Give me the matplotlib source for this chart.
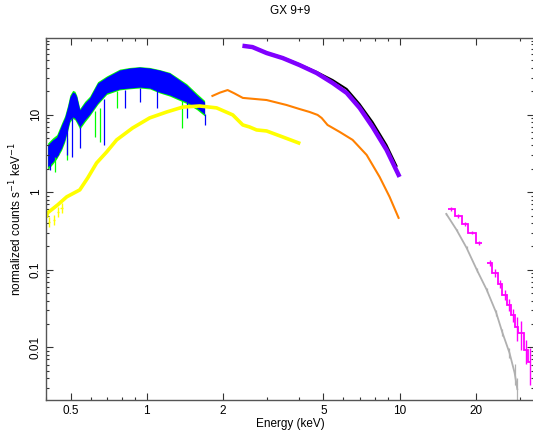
import numpy as np
import matplotlib.pyplot as plt
from matplotlib.ticker import FixedLocator, FixedFormatter, NullFormatter, LogLocator

plt.rcParams['font.family'] = ['Liberation Sans', 'DejaVu Sans']

# low-energy grating-like spectra (blue, green): envelope
band_E = [0.406, 0.425, 0.441, 0.461, 0.474, 0.487, 0.497, 0.510, 0.520, 0.529, 0.544, 0.569, 0.595,
          0.640, 0.695, 0.782, 0.857, 0.938, 1.028, 1.125, 1.233, 1.314, 1.439, 1.577, 1.695]
blue_hi = [4.06, 4.71, 5.15, 7.36, 9.06, 12.5, 16.8, 19.5, 19.0, 17.0, 11.5, 14.1, 16.4,
           25.5, 30.5, 37.5, 39.8, 41.0, 39.8, 37.5, 34.3, 29.6, 24.0, 17.9, 14.5]
blue_lo = [2.12, 2.45, 2.84, 3.72, 4.71, 6.5, 8.52, 9.31, 9.0, 8.2, 6.93, 8.52, 10.1,
           14.1, 19.0, 21.4, 22.0, 22.6, 22.0, 19.5, 17.9, 16.4, 14.5, 12.2, 10.1]
green_hi = [4.3, 5.0, 5.5, 7.8, 9.6, 13.2, 17.8, 20.5, 20.0, 17.8, 12.0, 14.8, 17.2,
            26.5, 31.5, 38.5, 40.5, 41.5, 40.5, 38.0, 35.0, 30.5, 25.0, 18.8, 15.2]
green_lo = [1.95, 2.3, 2.7, 3.5, 4.4, 6.1, 8.0, 8.9, 8.6, 7.8, 6.5, 8.0, 9.6,
            13.5, 18.2, 20.8, 21.5, 22.0, 21.4, 19.0, 17.3, 15.8, 13.9, 11.6, 9.6]

# absorption dips: energy, top, bottom
blue_line_E = [0.414, 0.445, 0.483, 0.505, 0.544, 0.676, 0.819, 0.938, 1.095, 1.45, 1.695]
blue_line_top = [3.0, 4.5, 7.0, 9.0, 7.0, 16.0, 21.0, 22.0, 21.0, 14.5, 10.1]
blue_line_bot = [1.94, 3.02, 3.02, 2.84, 3.72, 4.06, 12.2, 14.5, 12.2, 9.06, 7.35]
green_line_E = [0.433, 0.483, 0.623, 0.652, 0.761, 1.375]
green_line_top = [2.8, 5.0, 11.0, 12.0, 20.0, 15.0]
green_line_bot = [1.82, 2.6, 5.15, 4.44, 12.2, 6.7]

# yellow spectrum
yel_E = [0.403, 0.406, 0.445, 0.483, 0.544, 0.585, 0.634, 0.695, 0.761, 0.880, 1.028,
         1.20, 1.39, 1.62, 1.89, 2.19, 2.40, 2.55, 2.72, 2.98, 3.45, 3.99]
yel_F = [0.495, 0.542, 0.687, 0.871, 1.07, 1.53, 2.38, 3.30, 4.72, 6.72, 9.06,
         10.8, 12.5, 12.9, 12.2, 9.9, 7.35, 6.93, 6.34, 6.15, 5.15, 4.31]
yel_pts_E = [0.410, 0.429, 0.445, 0.461]
yel_pts_F = [0.415, 0.44, 0.56, 0.63]

# orange spectrum
ora_E = [1.82, 1.95, 2.09, 2.22, 2.40, 2.98, 3.57, 4.02, 4.41, 4.74, 4.92, 5.19, 5.80, 6.52,
         7.41, 8.34, 9.13, 9.91]
ora_F = [17.4, 19.2, 20.7, 18.8, 16.4, 15.4, 13.3, 11.8, 10.8, 9.9, 9.04, 7.35, 5.97, 4.72,
         3.02, 1.57, 0.871, 0.467]

# purple data and black model
pur_E = [2.44, 2.62, 2.98, 3.45, 4.02, 4.70, 5.44, 6.18, 6.95, 7.82, 8.88, 9.91]
pur_F = [76.4, 74.1, 62.1, 53.5, 43.5, 34.3, 25.5, 19.0, 12.2, 6.93, 3.51, 1.67]
blk_E = [2.44, 2.62, 2.98, 3.45, 4.02, 4.70, 5.44, 6.18, 6.95, 7.82, 8.88, 9.73]
blk_F = [77.0, 75.0, 63.0, 54.5, 44.5, 35.5, 27.9, 21.4, 13.7, 8.03, 4.06, 2.18]

# magenta hard X-ray bins (two contiguous groups)
mag1_edges = [15.5, 16.5, 17.6, 18.7, 20.0, 21.1]
mag1_F = [0.61, 0.495, 0.391, 0.30, 0.223]
mag1_err = [0.05, 0.05, 0.05, 0.05, 0.06]
mag2_edges = [22.1, 23.3, 24.4, 25.5, 26.5, 27.7, 28.5, 29.5, 31.0, 32.1, 33.2]
mag2_F = [0.123, 0.0914, 0.066, 0.0476, 0.0355, 0.0264, 0.0185, 0.0155, 0.0093, 0.00655]
mag2_err = [0.09, 0.12, 0.12, 0.15, 0.18, 0.2, 0.35, 0.4, 0.35, 0.5]

# gray spectrum
gry_E = [15.3, 16.8, 18.4, 20.2, 22.1, 24.1, 25.5, 27.2, 28.5, 29.2]
gry_F = [0.525, 0.327, 0.192, 0.1, 0.0553, 0.028, 0.0155, 0.0085, 0.0047, 0.0029]
gry_err = [0.03, 0.03, 0.04, 0.05, 0.06, 0.08, 0.1, 0.15, 0.3, 0.4]

fig = plt.figure(figsize=(5.33, 4.32), dpi=100)
ax = fig.add_axes([46 / 533, 32 / 432, 488 / 533, 362 / 432])

ax.fill_between(band_E, green_lo, green_hi, color='#00ff00', lw=0)
ax.vlines(green_line_E, green_line_bot, green_line_top, color='#00ff00', lw=0.9)
ax.fill_between(band_E, blue_lo, blue_hi, color='#0000ff', lw=0)
ax.vlines(blue_line_E, blue_line_bot, blue_line_top, color='#0000ff', lw=0.9)

ax.plot(yel_E, yel_F, color='#ffff00', lw=2.6)
ax.errorbar(yel_pts_E, yel_pts_F, yerr=[[f * 0.14 for f in yel_pts_F], [f * 0.16 for f in yel_pts_F]],
            xerr=[[e * 0.01 for e in yel_pts_E], [e * 0.01 for e in yel_pts_E]],
            fmt='none', ecolor='#ffff00', elinewidth=1)

ax.plot(ora_E, ora_F, color='#ff8000', lw=1.5)

ax.plot(blk_E, blk_F, color='black', lw=1.4)
ax.plot(pur_E, pur_F, color='#8000ff', lw=3.2)

ax.plot(gry_E, gry_F, color='#b0b0b0', lw=1.3)
ax.errorbar(gry_E, gry_F, yerr=[[f * r for f, r in zip(gry_F, gry_err)],
                                 [f * r for f, r in zip(gry_F, gry_err)]],
            fmt='none', ecolor='#b0b0b0', elinewidth=0.9)

for edges, vals, err in [(mag1_edges, mag1_F, mag1_err), (mag2_edges, mag2_F, mag2_err)]:
    ax.stairs(vals, edges, color='#ff00ff', lw=1.3, baseline=None)
    mids = [np.sqrt(a * b) for a, b in zip(edges[:-1], edges[1:])]
    ax.errorbar(mids, vals, yerr=[[v * e for v, e in zip(vals, err)], [v * e for v, e in zip(vals, err)]],
                fmt='none', ecolor='#ff00ff', elinewidth=1)

ax.set_xscale('log')
ax.set_yscale('log')
ax.set_xlim(0.4, 34)
ax.set_ylim(0.0021, 97)

ax.xaxis.set_major_locator(FixedLocator([0.5, 1, 2, 5, 10, 20]))
ax.xaxis.set_major_formatter(FixedFormatter(['0.5', '1', '2', '5', '10', '20']))
ax.xaxis.set_minor_locator(FixedLocator([0.4, 0.6, 0.7, 0.8, 0.9, 3, 4, 6, 7, 8, 9, 30]))
ax.xaxis.set_minor_formatter(NullFormatter())
ax.yaxis.set_major_locator(FixedLocator([0.01, 0.1, 1, 10]))
ax.yaxis.set_major_formatter(FixedFormatter(['0.01', '0.1', '1', '10']))
ax.yaxis.set_minor_locator(LogLocator(base=10, subs=np.arange(2, 10)))
ax.yaxis.set_minor_formatter(NullFormatter())

ax.tick_params(which='both', direction='in', top=True, right=True, colors='#333333',
               labelcolor='black', labelsize=8.5, width=0.8)
ax.tick_params(which='major', length=5)
ax.tick_params(which='minor', length=2.5)
ax.tick_params(axis='y', labelrotation=90, pad=3)
for lbl in ax.get_yticklabels():
    lbl.set_va('center')
for sp in ax.spines.values():
    sp.set_color('#555555')
    sp.set_linewidth(1)

ax.set_xlabel('Energy (keV)', fontsize=8.5, labelpad=1)
ax.set_ylabel('normalized counts s$^{-1}$ keV$^{-1}$', fontsize=8.5, labelpad=4)
ax.set_title('GX 9+9', fontsize=8.5, pad=17)

fig.savefig('out.png', dpi=100)
